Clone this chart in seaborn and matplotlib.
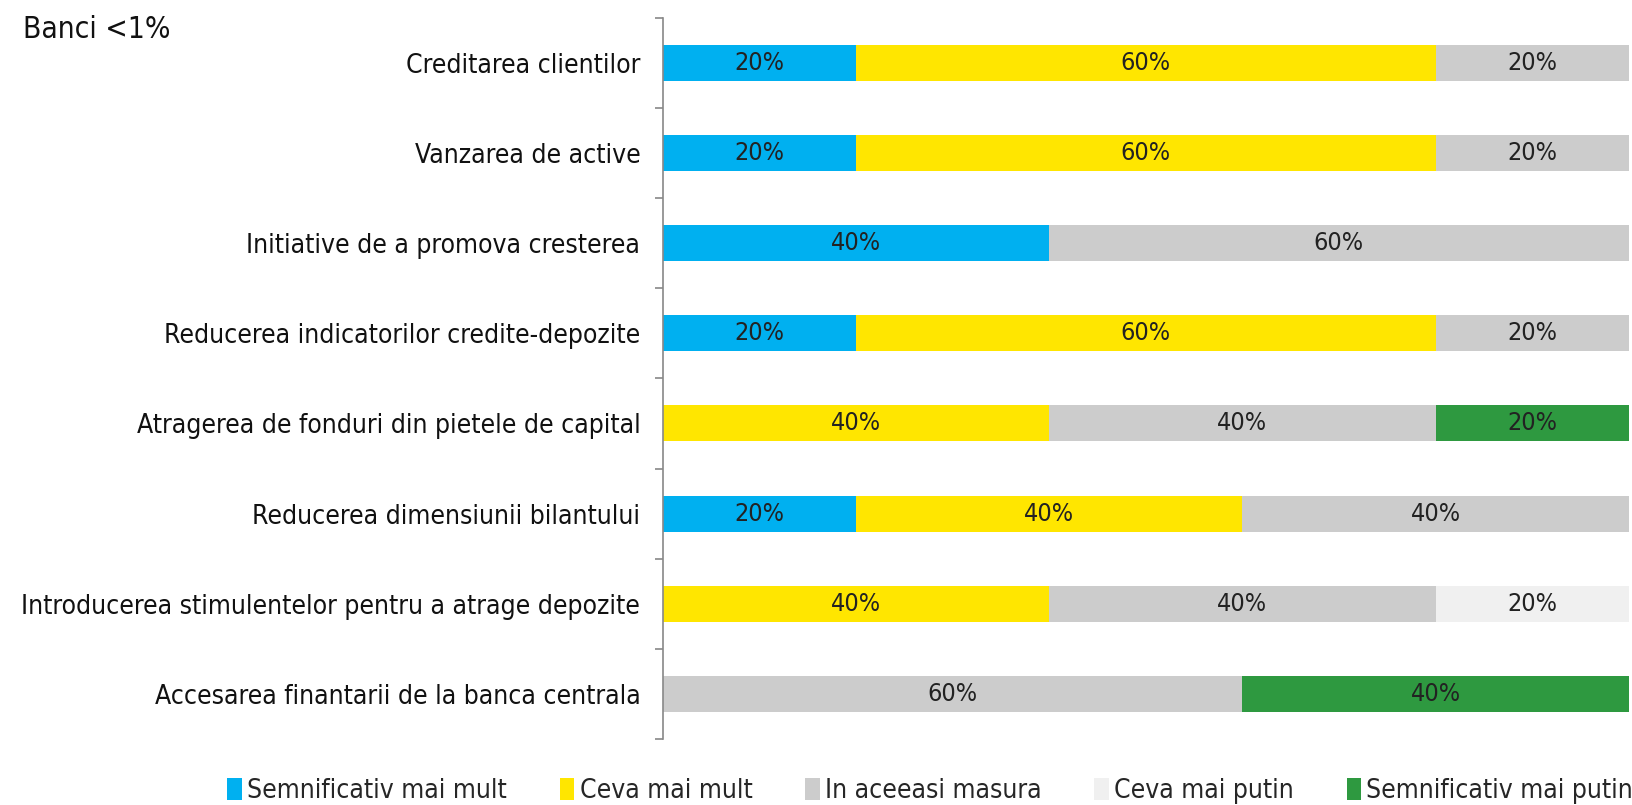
import numpy as np
import pandas as pd
import matplotlib
matplotlib.use("Agg")
import matplotlib.pyplot as plt
from matplotlib.patches import Patch
import seaborn as sns

categories = [
    "Creditarea clientilor",
    "Vanzarea de active",
    "Initiative de a promova cresterea",
    "Reducerea indicatorilor credite-depozite",
    "Atragerea de fonduri din pietele de capital",
    "Reducerea dimensiunii bilantului",
    "Introducerea stimulentelor pentru a atrage depozite",
    "Accesarea finantarii de la banca centrala",
]
series_names = [
    "Semnificativ mai mult",
    "Ceva mai mult",
    "In aceeasi masura",
    "Ceva mai putin",
    "Semnificativ mai putin",
]
semnificativ_mai_mult = [20, 20, 40, 20, 0, 20, 0, 0]
ceva_mai_mult = [60, 60, 0, 60, 40, 40, 40, 0]
in_aceeasi_masura = [20, 20, 60, 20, 40, 40, 40, 60]
ceva_mai_putin = [0, 0, 0, 0, 0, 0, 20, 0]
semnificativ_mai_putin = [0, 0, 0, 0, 20, 0, 0, 40]
colors = ["#00B0F0", "#FFE600", "#CCCCCC", "#F0F0F0", "#2E9940"]

sns.set_theme(style="white")
plt.rcParams["font.family"] = ["DejaVu Sans"]
plt.rcParams["font.stretch"] = "condensed"

values = np.array([semnificativ_mai_mult, ceva_mai_mult, in_aceeasi_masura,
                   ceva_mai_putin, semnificativ_mai_putin], dtype=float)
cum = values.cumsum(axis=0)

fig = plt.figure(figsize=(16.32, 8.05), dpi=100)
ax = fig.add_axes([0.406, 0.082, 0.592, 0.896])

# draw cumulative totals from the last series to the first so each overlays the rest
for k in range(len(series_names) - 1, -1, -1):
    df = pd.DataFrame({"cat": categories, "val": cum[k]})
    sns.barplot(data=df, x="val", y="cat", orient="h", color=colors[k],
                width=0.4, saturation=1, ax=ax, linewidth=0)

# segment labels
for k in range(len(series_names)):
    for i in range(len(categories)):
        v = values[k, i]
        if v > 0:
            mid = cum[k, i] - v / 2
            ax.text(mid, i, f"{int(v)}%", ha="center", va="center",
                    fontsize=18, color="#222222")

ax.set_xlim(0, 100)
ax.set_ylim(len(categories) - 0.5, -0.5)
ax.set_xlabel("")
ax.set_ylabel("")
ax.set_xticks([])
for s in ["top", "right", "bottom"]:
    ax.spines[s].set_visible(False)
ax.spines["left"].set_color("#888888")
ax.spines["left"].set_linewidth(1.2)
ax.tick_params(axis="y", which="major", left=False, length=0, pad=16,
               labelsize=19, labelcolor="#111111")
ax.set_yticks(np.arange(-0.5, len(categories), 1.0), minor=True)
ax.tick_params(axis="y", which="minor", left=True, length=6, width=1.2,
               color="#888888", direction="out")

fig.text(0.014, 0.963, "Banci <1%", fontsize=21.5, ha="left", va="center",
         color="#111111")

handles = [Patch(facecolor=c, edgecolor="none") for c in colors]
fig.legend(handles, series_names, loc="center", bbox_to_anchor=(0.57, 0.017),
           ncol=5, frameon=False, fontsize=19, handlelength=0.55,
           handleheight=0.9, handletextpad=0.2, columnspacing=2.0)

fig.savefig("out.png", dpi=100)
